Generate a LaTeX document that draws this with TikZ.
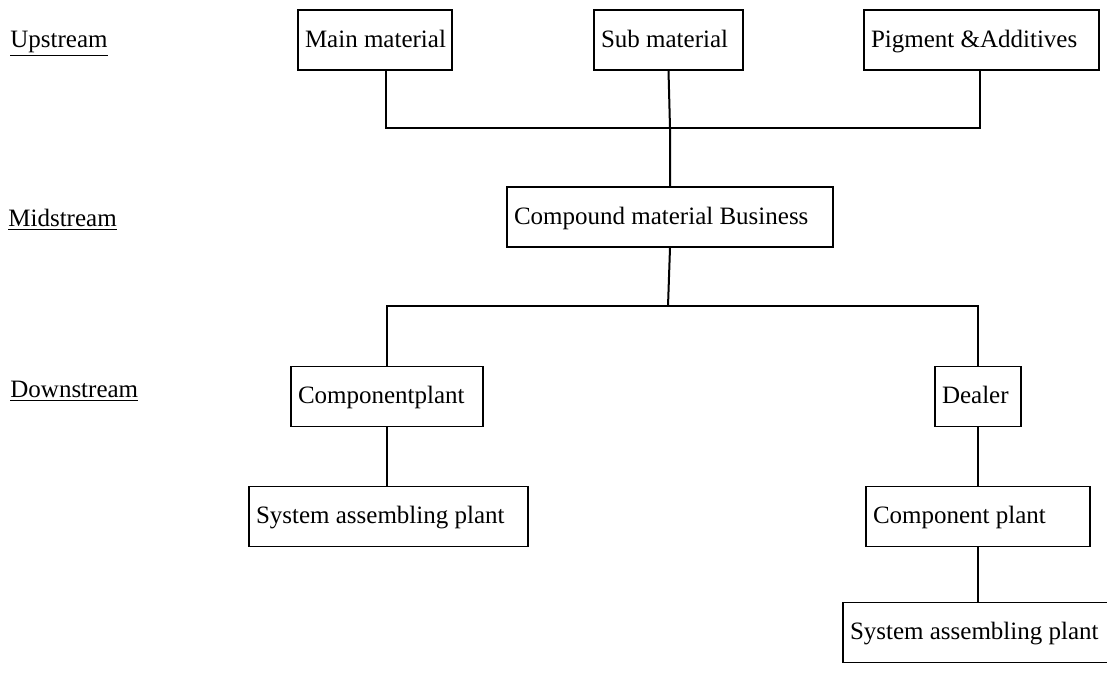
\documentclass[tikz,border=0pt]{standalone}
\usepackage{fontspec}
\setmainfont{Liberation Serif}
\usepackage{amsmath}

\begin{document}
\begin{tikzpicture}[x=0.5pt,y=-0.5pt,
  box/.style={draw,line width=0.75pt,minimum height=30pt,inner ysep=0pt,inner xsep=3.5pt,
    text height=10pt,text depth=3pt,align=flush left,font=\fontsize{12.5}{15}\selectfont},
  stage/.style={anchor=base west,inner sep=0pt,font=\fontsize{12.5}{15}\selectfont},
  link/.style={line width=1pt}]
\useasboundingbox (0,0) rectangle (1107,681);
\node[stage] (up) at (10,47) {\underline{Upstream}};
\node[stage] (mid) at (8,226) {\underline{Midstream}};
\node[stage] (down) at (10,397) {\underline{Downstream}};
\node[box,text width=70pt] (main) at (375,40) {\mbox{Main material}};
\node[box,text width=67.5pt] (sub) at (668.5,40) {Sub material};
\node[box,text width=110.5pt] (pig) at (981.5,40) {Pigment \&Additives};
\node[box,text width=156pt] (comp) at (670,217) {Compound material Business};
\node[box,text width=89pt] (cplant) at (387,396.5) {Componentplant};
\node[box,text width=36pt] (dealer) at (978,396.5) {Dealer};
\node[box,text width=132.5pt] (sysa) at (388.5,516.5) {System assembling plant};
\node[box,text width=105pt] (cplantb) at (978,516.5) {Component plant};
\node[box,text width=132.5pt] (sysb) at (982.5,632.5) {System assembling plant};
\coordinate (topbus) at (670,128);
\coordinate (lowbus) at (668,306);
\draw[link] ([xshift=5.5pt]main.south) |- (topbus) -| ([xshift=-0.75pt]pig.south);
\draw[link] (sub.south) -- (topbus) -- (comp.north);
\draw[link] (comp.south) -- (lowbus);
\draw[link] (cplant.north) |- (lowbus) -| (dealer.north);
\draw[link] (cplant.south) -- (cplant.south |- sysa.north);
\draw[link] (dealer.south) -- (cplantb.north);
\draw[link] (cplantb.south) -- (cplantb.south |- sysb.north);
\end{tikzpicture}
\end{document}
